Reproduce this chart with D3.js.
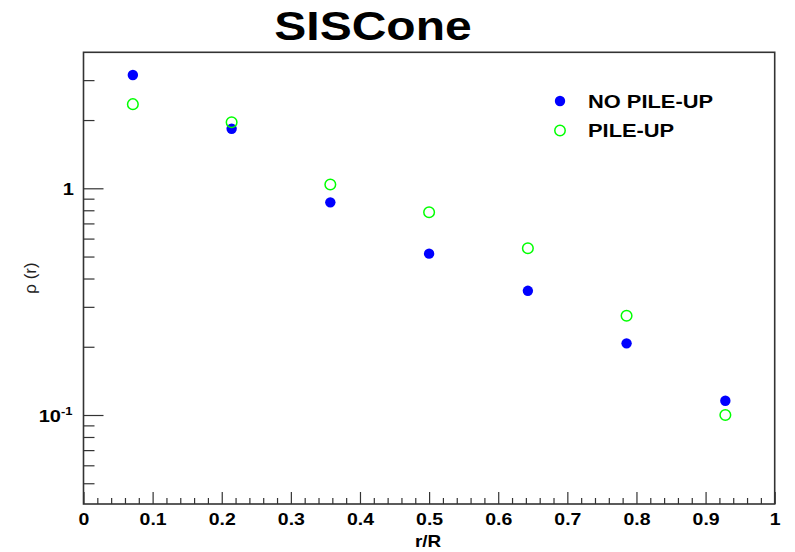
<!DOCTYPE html>
<html>
<head>
<meta charset="utf-8">
<script src="https://cdn.jsdelivr.net/npm/d3@7"></script>
<style>
  html, body { margin: 0; padding: 0; background: #fff; }
  svg { display: block; }
  text { font-family: "Liberation Sans", Arial, Helvetica, sans-serif; }
</style>
</head>
<body>
<svg id="chart" width="795" height="552"></svg>
<script>
// ---- data ----
const binCenters = [0.0714, 0.2143, 0.3571, 0.5, 0.6429, 0.7857, 0.9286];
const noPileUp   = [3.16, 1.83, 0.867, 0.515, 0.353, 0.207, 0.1156];
const pileUp     = [2.35, 1.955, 1.04, 0.784, 0.544, 0.274, 0.100];
const seriesNames = ["NO PILE-UP", "PILE-UP"];
const xTickValues = [0, 0.1, 0.2, 0.3, 0.4, 0.5, 0.6, 0.7, 0.8, 0.9, 1];
const xTickLabels = ["0", "0.1", "0.2", "0.3", "0.4", "0.5", "0.6", "0.7", "0.8", "0.9", "1"];
const yMajorTicks = [0.1, 1];
const yMinorTicks = [0.05, 0.06, 0.07, 0.08, 0.09, 0.2, 0.3, 0.4, 0.5, 0.6, 0.7, 0.8, 0.9, 2, 3];
const titleText = "SISCone";
const xTitle = "r/R";
const yTitle = "\u03C1 (r)";

// ---- layout ----
const svg = d3.select("#chart");
const L = 83.5, R = 774.7, T = 52.3, B = 504;
const SX = 1.18; // horizontal stretch of text

const x = d3.scaleLinear().domain([0, 1]).range([L, R]);
const y = d3.scaleLog().domain([0.0405, 3.98]).range([B, T]);

// frame
svg.append("rect")
  .attr("x", L).attr("y", T).attr("width", R - L).attr("height", B - T)
  .attr("fill", "none").attr("stroke", "#333").attr("stroke-width", 1.6);

// x minor ticks
const xMinor = d3.range(0, 51).map(i => i * 0.02).filter(v => Math.abs(v * 10 - Math.round(v * 10)) > 1e-6);
svg.append("g").attr("transform", `translate(0,${B})`)
  .call(d3.axisBottom(x).tickValues(xMinor).tickSize(-6).tickFormat(""))
  .call(g => g.select(".domain").remove())
  .call(g => g.selectAll("line").attr("stroke", "#333").attr("stroke-width", 1.2));

// x major ticks + labels
const gx = svg.append("g").attr("transform", `translate(0,${B})`)
  .call(d3.axisBottom(x).tickValues(xTickValues).tickSize(-12).tickPadding(10)
        .tickFormat((d, i) => xTickLabels[i]))
  .call(g => g.select(".domain").remove())
  .call(g => g.selectAll("line").attr("stroke", "#333").attr("stroke-width", 1.2));
gx.selectAll("text")
  .attr("fill", "#000").attr("font-size", 16.5).attr("font-weight", "bold")
  .attr("y", 21).attr("dy", 0)
  .attr("transform", `scale(${SX},1)`);

// y minor ticks
svg.append("g").attr("transform", `translate(${L},0)`)
  .call(d3.axisLeft(y).tickValues(yMinorTicks).tickSize(-11).tickFormat(""))
  .call(g => g.select(".domain").remove())
  .call(g => g.selectAll("line").attr("stroke", "#333").attr("stroke-width", 1.2));

// y major ticks
const gy = svg.append("g").attr("transform", `translate(${L},0)`)
  .call(d3.axisLeft(y).tickValues(yMajorTicks).tickSize(-20).tickFormat(""))
  .call(g => g.select(".domain").remove())
  .call(g => g.selectAll("line").attr("stroke", "#333").attr("stroke-width", 1.2));

// y labels (custom: 1 and 10^-1)
gy.selectAll(".tick").each(function(d) {
  const t = d3.select(this).append("text")
    .attr("fill", "#000").attr("font-weight", "bold").attr("font-size", 17)
    .attr("text-anchor", "end").attr("y", 6)
    .attr("transform", `scale(${SX},1)`);
  if (d === 1) {
    t.attr("x", -9.5 / SX).text("1");
  } else {
    t.attr("x", -11 / SX);
    t.append("tspan").text("10");
    t.append("tspan").attr("font-size", 11).attr("dy", -7).text("-1");
  }
});

// title
svg.append("text")
  .attr("x", 373 / 1.2).attr("y", 40)
  .attr("transform", "scale(1.2,1)")
  .attr("text-anchor", "middle").attr("font-weight", "bold").attr("font-size", 40)
  .attr("fill", "#000").text(titleText);

// axis titles
svg.append("text")
  .attr("x", 428 / SX).attr("y", 547)
  .attr("transform", `scale(${SX},1)`)
  .attr("text-anchor", "middle").attr("font-weight", "bold").attr("font-size", 16)
  .attr("fill", "#000").text(xTitle);

svg.append("text")
  .attr("transform", "translate(36,278) rotate(-90)")
  .attr("text-anchor", "middle").attr("font-size", 17)
  .attr("fill", "#222").text(yTitle);

// data
const blue = "#0000ff", green = "#00ff00";
svg.append("g").selectAll("circle")
  .data(binCenters.map((c, i) => [c, noPileUp[i]]))
  .join("circle")
  .attr("cx", d => x(d[0])).attr("cy", d => y(d[1])).attr("r", 5.2)
  .attr("fill", blue);

svg.append("g").selectAll("circle")
  .data(binCenters.map((c, i) => [c, pileUp[i]]))
  .join("circle")
  .attr("cx", d => x(d[0])).attr("cy", d => y(d[1])).attr("r", 5.3)
  .attr("fill", "none").attr("stroke", green).attr("stroke-width", 1.5);

// legend
const leg = svg.append("g");
const legItems = [
  {name: seriesNames[0], filled: true,  yy: 101},
  {name: seriesNames[1], filled: false, yy: 130.5}
];
legItems.forEach(it => {
  leg.append("circle").attr("cx", 560).attr("cy", it.yy).attr("r", 5.2)
    .attr("fill", it.filled ? blue : "none")
    .attr("stroke", it.filled ? "none" : green).attr("stroke-width", 1.5);
  leg.append("text").attr("x", 588 / 1.15).attr("y", it.yy + 7)
    .attr("transform", "scale(1.15,1)")
    .attr("font-weight", "bold").attr("font-size", 19).attr("fill", "#000")
    .text(it.name);
});
</script>
</body>
</html>
